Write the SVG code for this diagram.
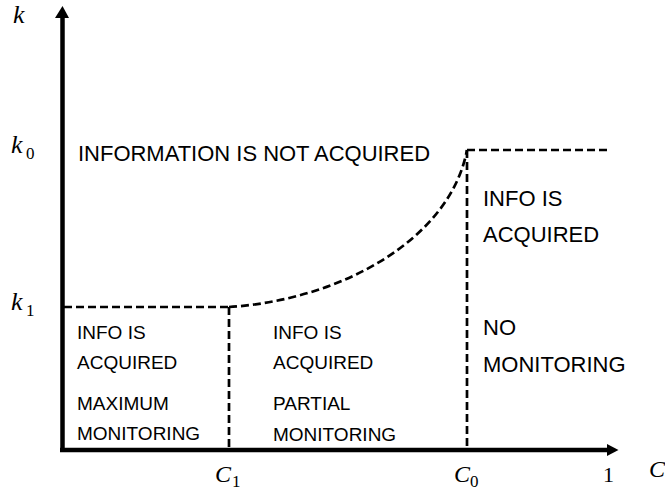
<svg xmlns="http://www.w3.org/2000/svg" width="665" height="492" viewBox="0 0 665 492">
<style>
.lbl{font-family:"Liberation Sans",Arial,sans-serif;fill:#000}
.s{font-size:19px}
.m{font-size:22px}
.math{font-family:"Liberation Serif","DejaVu Serif",serif;font-style:italic;fill:#000}
.sub{font-family:"Liberation Serif","DejaVu Serif",serif;font-size:17px;fill:#000}
.dash{fill:none;stroke:#000;stroke-width:2.7;stroke-dasharray:8 4}
.axis{stroke:#000;stroke-width:4.5;fill:none}
</style>
<rect width="665" height="492" fill="#fff"/>
<g id="axes">
<line class="axis" x1="62.5" y1="452" x2="62.5" y2="16"/>
<polygon points="55,18 62.5,6 69,18" fill="#000"/>
<line class="axis" x1="60" y1="450" x2="609" y2="450"/>
<polygon points="607,444 618.5,450 607,456" fill="#000"/>
</g>
<g id="connectors">
<path class="dash" d="M64,307 H229"/>
<path class="dash" d="M229,307 V448"/>
<path class="dash" d="M229,307 C340,300 450,240 467,150"/>
<path class="dash" d="M467,150 V448"/>
<path class="dash" d="M467,150 H610"/>
</g>
<g id="axis-labels">
<text class="math" x="13" y="23" font-size="26">k</text>
<text class="math" x="11" y="153" font-size="26">k</text>
<text class="sub" x="26" y="159">0</text>
<text class="math" x="11" y="310" font-size="26">k</text>
<text class="sub" x="26" y="316">1</text>
<text class="math" x="215" y="482" font-size="24">C</text>
<text class="sub" x="232" y="487">1</text>
<text class="math" x="454" y="482" font-size="24">C</text>
<text class="sub" x="470" y="487">0</text>
<text x="603" y="482" font-family="Liberation Serif,serif" font-size="22">1</text>
<text class="math" x="649" y="477" font-size="24">C</text>
</g>
<g id="region-not-acquired">
<text class="lbl" x="78" y="161" font-size="21.5" textLength="352" lengthAdjust="spacingAndGlyphs">INFORMATION IS NOT ACQUIRED</text>
</g>
<g id="region-max">
<text class="lbl s" x="77" y="339">INFO IS</text>
<text class="lbl s" x="77" y="369">ACQUIRED</text>
<text class="lbl s" x="77" y="410">MAXIMUM</text>
<text class="lbl s" x="77" y="440">MONITORING</text>
</g>
<g id="region-partial">
<text class="lbl s" x="273" y="339">INFO IS</text>
<text class="lbl s" x="273" y="369">ACQUIRED</text>
<text class="lbl s" x="273" y="410">PARTIAL</text>
<text class="lbl s" x="273" y="441">MONITORING</text>
</g>
<g id="region-acquired">
<text class="lbl m" x="483" y="206">INFO IS</text>
<text class="lbl m" x="483" y="242">ACQUIRED</text>
</g>
<g id="region-none">
<text class="lbl m" x="483" y="335">NO</text>
<text class="lbl m" x="483" y="372">MONITORING</text>
</g>
</svg>
